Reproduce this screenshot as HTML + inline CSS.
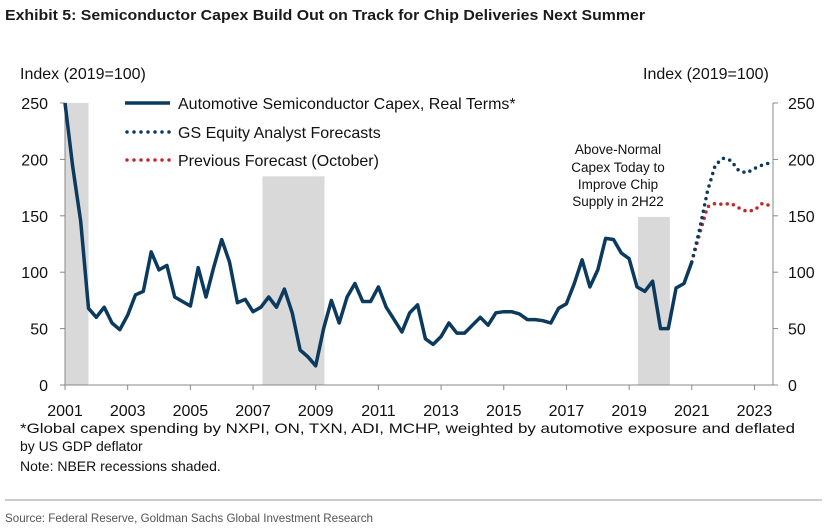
<!DOCTYPE html>
<html><head><meta charset="utf-8"><style>
body{margin:0;background:#fff;}
svg{display:block;font-family:"Liberation Sans",Arial,sans-serif;}
</style></head><body>
<svg id="chart" width="830" height="532" viewBox="0 0 830 532">
<text x="5" y="20" font-size="15" font-weight="bold" fill="#1a1a1a" textLength="640" lengthAdjust="spacingAndGlyphs">Exhibit 5: Semiconductor Capex Build Out on Track for Chip Deliveries Next Summer</text>
<text x="20" y="79" font-size="16" fill="#111">Index (2019=100)</text>
<text x="643" y="79" font-size="16" fill="#111">Index (2019=100)</text>
<g id="shades"></g>
<g id="axes"></g>
<g id="series"></g>
<g>
<line x1="125" y1="103" x2="170" y2="103" stroke="#0b3a5e" stroke-width="3.5"/>
<text x="178" y="109" font-size="16" fill="#111">Automotive Semiconductor Capex, Real Terms*</text>
<line x1="127" y1="132" x2="170" y2="132" stroke="#0b3a5e" stroke-width="3.5" stroke-dasharray="0 7" stroke-linecap="round"/>
<text x="178" y="138" font-size="16" fill="#111">GS Equity Analyst Forecasts</text>
<line x1="127" y1="160" x2="170" y2="160" stroke="#c0282d" stroke-width="3.5" stroke-dasharray="0 7" stroke-linecap="round"/>
<text x="178" y="166" font-size="16" fill="#111">Previous Forecast (October)</text>
</g>
<g font-size="13.5" fill="#111" text-anchor="middle">
<text x="618" y="154">Above-Normal</text>
<text x="618" y="172">Capex Today to</text>
<text x="618" y="189">Improve Chip</text>
<text x="618" y="206">Supply in 2H22</text>
</g>
<g font-size="14" fill="#111">
<text x="20" y="433" textLength="775" lengthAdjust="spacingAndGlyphs">*Global capex spending by NXPI, ON, TXN, ADI, MCHP, weighted by automotive exposure and deflated</text>
<text x="20" y="451">by US GDP deflator</text>
<text x="20" y="471">Note: NBER recessions shaded.</text>
</g>
<line x1="5" y1="500" x2="822" y2="500" stroke="#999" stroke-width="1"/>
<text x="5" y="522" font-size="12" fill="#555" textLength="368" lengthAdjust="spacingAndGlyphs">Source: Federal Reserve, Goldman Sachs Global Investment Research</text>
</svg>
<script>
const actual=[250,193,145,68,60,69,55,49,62,80,83,118,102,106,78,74,70,104,78,105,129,109,73,76,65,69,78,69,85,64,31,25,17,50,75,55,78,90,74,74,87,69,58,47,64,71,41,36,43,55,46,46,53,60,53,64,65,65,63,58,58,57,55,68,72,90,111,87,102,130,129,117,112,87,83,92,50,50,86,90,109];
const gsForecast=[109,138,172,195,201,199,190,188,192,195,197];
const prevForecast=[109,134,158,161,160,161,157,154,155,161,159];
const forecastStart=80;
const yTicks=[0,50,100,150,200,250];
const xTickYears=[2001,2003,2005,2007,2009,2011,2013,2015,2017,2019,2021,2023];
const recessions=[[2001.0,2001.75,250],[2007.3,2009.28,185],[2019.28,2020.3,149]];
const NS='http://www.w3.org/2000/svg';
const X0=65,X1=773,Y0=385,Y1=103;
const xq=i=>X0+i*7.835;
const xYear=y=>X0+(y-2001)*31.34;
const yv=v=>Y0-(v/250)*(Y0-Y1);
function mk(tag,attrs,parent){const e=document.createElementNS(NS,tag);for(const k in attrs)e.setAttribute(k,attrs[k]);parent.appendChild(e);return e;}
const shades=document.getElementById('shades'),axes=document.getElementById('axes'),series=document.getElementById('series');
recessions.forEach(r=>{
 const e=mk('rect',{x:xYear(r[0]),y:yv(r[2]),width:xYear(r[1])-xYear(r[0]),height:Y0-yv(r[2]),fill:'#d9d9d9'},shades);
 
 
});
let a=mk('line',{x1:X0,y1:Y1,x2:X0,y2:Y0,stroke:'#888'},axes);

a=mk('line',{x1:X1,y1:Y1,x2:X1,y2:Y0,stroke:'#888'},axes);

a=mk('line',{x1:X0,y1:Y0,x2:X1,y2:Y0,stroke:'#888'},axes);

yTicks.forEach(v=>{
 mk('line',{x1:X0-5,y1:yv(v),x2:X0,y2:yv(v),stroke:'#888'},axes);
 mk('line',{x1:X1,y1:yv(v),x2:X1+5,y2:yv(v),stroke:'#888'},axes);
 const t=mk('text',{x:48,y:yv(v)+6,'font-size':16,'text-anchor':'end',fill:'#111'},axes);t.textContent=v;
 
 const t2=mk('text',{x:788,y:yv(v)+6,'font-size':16,fill:'#111'},axes);t2.textContent=v;
 
});
xTickYears.forEach(y=>{
 mk('line',{x1:xYear(y),y1:Y0,x2:xYear(y),y2:Y0+5,stroke:'#888'},axes);
 const t=mk('text',{x:xYear(y),y:416,'font-size':16,'text-anchor':'middle',fill:'#111'},axes);t.textContent=y;
 
});
function pts(arr,off){return arr.map((v,i)=>xq(i+off).toFixed(1)+','+yv(v).toFixed(1)).join(' ');}
let p=mk('polyline',{points:pts(prevForecast,forecastStart),fill:'none',stroke:'#c0282d','stroke-width':3.5,'stroke-dasharray':'0 6.5','stroke-linecap':'round'},series);

p=mk('polyline',{points:pts(gsForecast,forecastStart),fill:'none',stroke:'#0b3a5e','stroke-width':3.5,'stroke-dasharray':'0 6.5','stroke-linecap':'round'},series);

p=mk('polyline',{points:pts(actual,0),fill:'none',stroke:'#0b3a5e','stroke-width':3.5,'stroke-linejoin':'round'},series);

</script>
</body></html>
